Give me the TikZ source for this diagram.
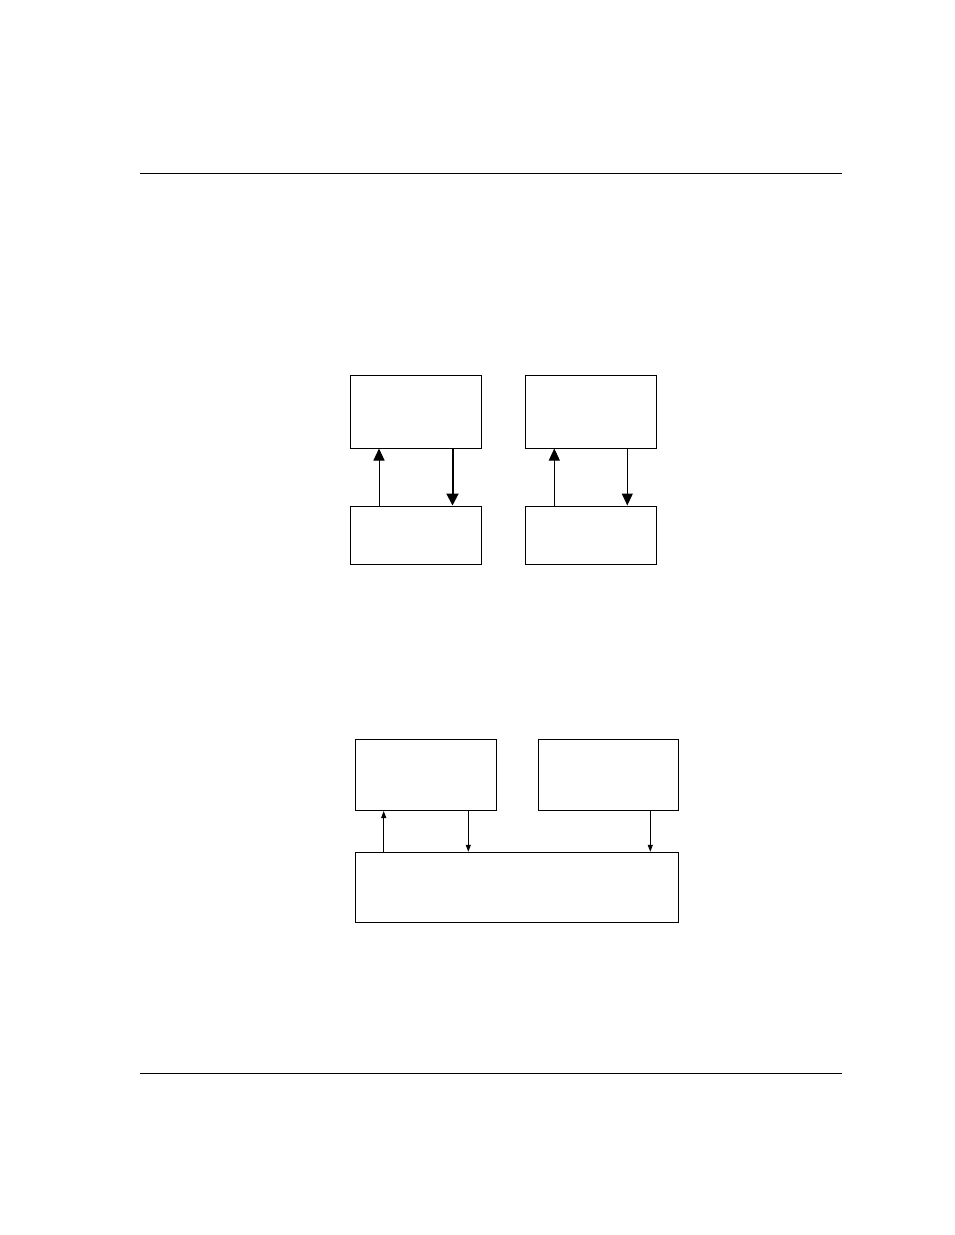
\documentclass[tikz,border=0pt]{standalone}
\usepackage{xcolor}
\usepackage{tikz}
\usetikzlibrary{arrows.meta}

\begin{document}
\begin{tikzpicture}[
        x=1pt, y=-1pt,
        block/.style={rectangle, draw=black, line width=1pt, inner sep=0pt, minimum width=131pt, minimum height=73pt},
        lowblock/.style={rectangle, draw=black, line width=1pt, inner sep=0pt, minimum width=131pt, minimum height=58pt},
        unit/.style={rectangle, draw=black, line width=1pt, inner sep=0pt, minimum width=141pt, minimum height=71pt},
        bigarrow/.style={-{Triangle[width=11pt,length=12pt]}, line width=1pt},
        heavyarrow/.style={-{Triangle[width=12pt,length=12pt]}, line width=2pt},
        smallarrow/.style={-{Triangle[width=5pt,length=7pt]}, line width=1pt},
        rule/.style={line width=1pt}
    ]
        \useasboundingbox (0,0) rectangle (954,1235);

        % ========== PAGE RULES ==========
        \draw[rule] (140,173.3) -- (842,173.3);
        \draw[rule] (140,1073.3) -- (842,1073.3);

        % ========== UPPER PAIRS ==========
        \node[block] (upperL) at (415.5,411.5) {};
        \node[block] (upperR) at (590.5,411.5) {};
        \node[lowblock] (lowerL) at (415.5,535) {};
        \node[lowblock] (lowerR) at (590.5,535) {};

        \draw[bigarrow] ([xshift=-36.5pt]lowerL.north) -- ([xshift=-36.5pt]upperL.south);
        \draw[heavyarrow] ([xshift=37pt]upperL.south) -- ([xshift=37pt]lowerL.north);
        \draw[bigarrow] ([xshift=-36.2pt]lowerR.north) -- ([xshift=-36.2pt]upperR.south);
        \draw[bigarrow] ([xshift=36.8pt]upperR.south) -- ([xshift=36.8pt]lowerR.north);

        % ========== LOWER GROUP ==========
        \node[unit] (unitA) at (426,775) {};
        \node[unit, minimum width=140pt] (unitB) at (608.3,775) {};
        \node[rectangle, draw=black, line width=1pt, inner sep=0pt, minimum width=322.6pt, minimum height=70pt] (base) at (517,887.3) {};

        \draw[smallarrow] ([xshift=-42.3pt]unitA.south |- base.north) -- ([xshift=-42.3pt]unitA.south);
        \draw[smallarrow] ([xshift=42.3pt]unitA.south) -- ([xshift=42.3pt]unitA.south |- base.north);
        \draw[smallarrow] ([xshift=42pt]unitB.south) -- ([xshift=42pt]unitB.south |- base.north);

    \end{tikzpicture}
\end{document}
